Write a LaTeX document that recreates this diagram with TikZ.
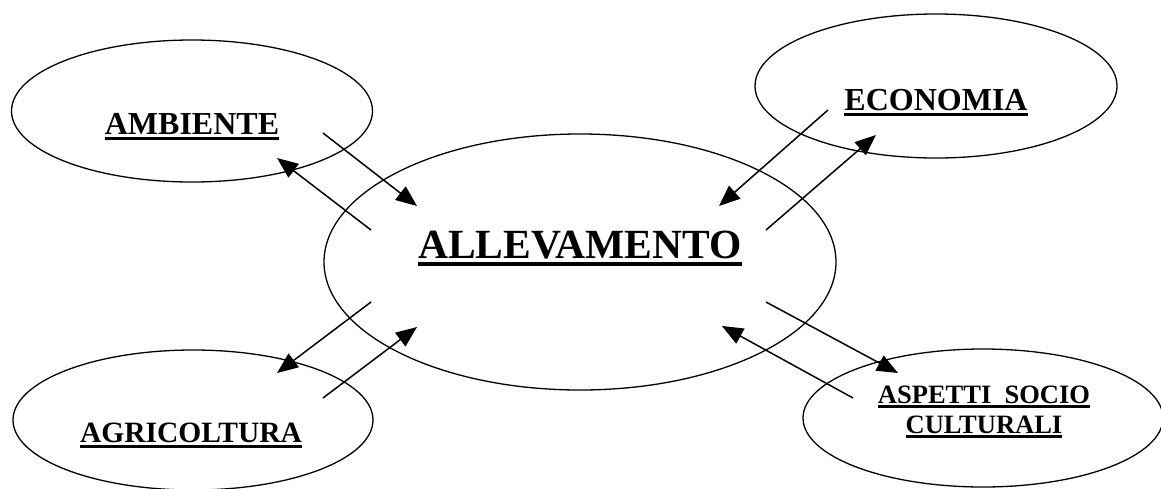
\documentclass[tikz,border=0pt]{standalone}
\usepackage{fontspec}
\setmainfont{Liberation Serif}
\usetikzlibrary{shapes.geometric,arrows.meta}
\newcommand\myul[1]{\setbox0\hbox{#1}\dimen0=\wd0\copy0\kern-\dimen0\rule[-0.2em]{\dimen0}{0.11em}}
\tikzset{
  bubble/.style={draw, ellipse, line width=1.3pt, inner sep=0pt},
  lbl/.style={anchor=base, inner sep=0pt, font=\bfseries, align=center},
  link/.style={line width=1.5pt, -{Triangle[length=21pt,width=17pt]}}
}
\begin{document}
\begin{tikzpicture}[x=1pt,y=-1pt]
\useasboundingbox (0,0) rectangle (1161,488);
% ellipses
\node[bubble, minimum width=361pt, minimum height=142pt] (amb) at (192,111) {};
\node[bubble, minimum width=362pt, minimum height=144pt] (eco) at (936,86) {};
\node[bubble, minimum width=360pt, minimum height=140pt] (agr) at (193,420) {};
\node[bubble, minimum width=360pt, minimum height=138pt] (asp) at (983,418) {};
\node[bubble, minimum width=512pt, minimum height=256pt] (all) at (580,262) {};
% labels
\node[lbl, font=\bfseries\fontsize{32}{36}\selectfont] (ambt) at (192,134) {\myul{AMBIENTE}};
\node[lbl, font=\bfseries\fontsize{32}{36}\selectfont] (ecot) at (936,110) {\myul{ECONOMIA}};
\node[lbl, font=\bfseries\fontsize{29.5}{34}\selectfont] (agrt) at (191,442) {\myul{AGRICOLTURA}};
\node[lbl, font=\bfseries\fontsize{41.5}{46}\selectfont] (allt) at (580,258) {\myul{ALLEVAMENTO}};
\node[lbl, font=\bfseries\fontsize{26.5}{30}\selectfont] (aspt) at (984,433) {\myul{ASPETTI\ \ SOCIO}\\\myul{CULTURALI}};
% arrow end points
\coordinate (a1s) at (323,133); \coordinate (a1e) at (417,206);
\coordinate (a2s) at (371,230); \coordinate (a2e) at (277,158);
\coordinate (a3s) at (828,110); \coordinate (a3e) at (719,206);
\coordinate (a4s) at (766,230); \coordinate (a4e) at (876,135);
\coordinate (a5s) at (371,302); \coordinate (a5e) at (277,373);
\coordinate (a6s) at (323,398); \coordinate (a6e) at (417,327);
\coordinate (a7s) at (766,302); \coordinate (a7e) at (898,373);
\coordinate (a8s) at (853,398); \coordinate (a8e) at (722,326);
\foreach \i in {1,...,8} {\draw[link] (a\i s) -- (a\i e);}
\end{tikzpicture}
\end{document}
